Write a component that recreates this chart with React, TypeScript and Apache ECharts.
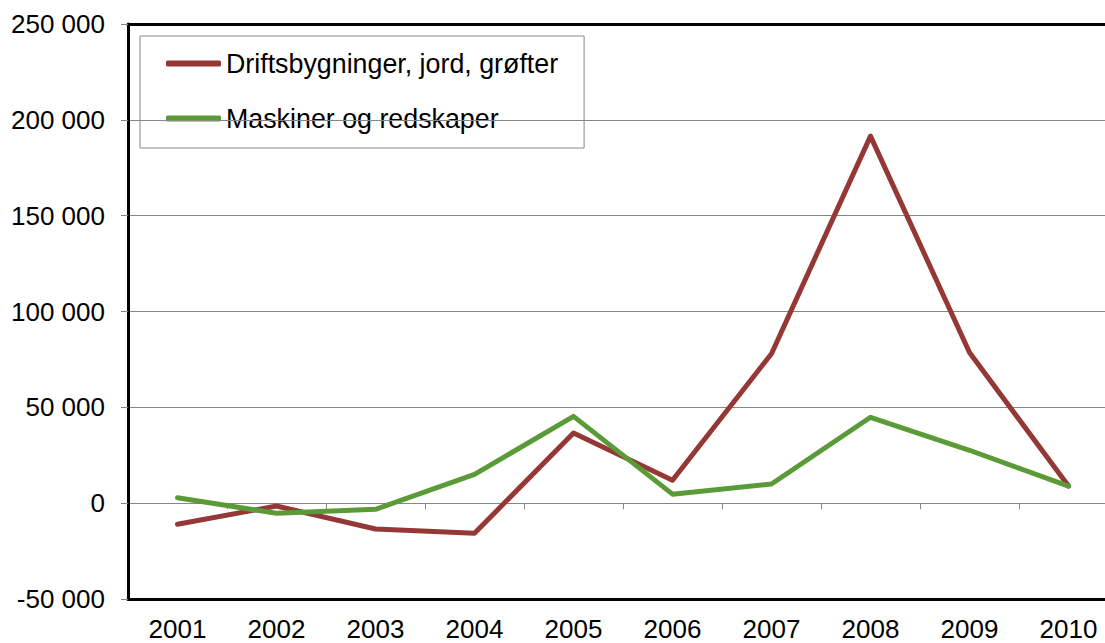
import React, { useEffect, useRef } from "react";
import * as echarts from "echarts";

const years = ["2001", "2002", "2003", "2004", "2005", "2006", "2007", "2008", "2009", "2010"];
const driftsbygninger = [-11000, -1500, -13500, -15700, 36600, 12000, 78000, 191500, 78600, 8900];
const maskiner = [2800, -5300, -3200, 15000, 45300, 4700, 10000, 44800, 27600, 8900];
const seriesNames = ["Driftsbygninger, jord, grøfter", "Maskiner og redskaper"];
const seriesColors = ["#953735", "#5B9B37"];

const FONT = "'Liberation Sans', Arial, sans-serif";

export default function App() {
  const ref = useRef<HTMLDivElement>(null);
  useEffect(() => {
    if (!ref.current) return;
    const chart = echarts.init(ref.current, undefined, { renderer: "svg" });
    chart.setOption({
      animation: false,
      backgroundColor: "#ffffff",
      grid: {
        left: 128,
        top: 24,
        width: 990,
        height: 575,
        containLabel: false,
      },
      legend: {
        orient: "vertical",
        left: 140,
        top: 36,
        backgroundColor: "#ffffff",
        borderColor: "#868686",
        borderWidth: 1,
        padding: [14, 26, 16, 26],
        itemWidth: 55,
        itemHeight: 6,
        itemGap: 28,
        icon: "roundRect",
        textStyle: { fontSize: 26.8, color: "#000", fontFamily: FONT },
        data: seriesNames,
      },
      xAxis: [
        {
          type: "category",
          data: years,
          position: "bottom",
          boundaryGap: true,
          axisLine: { onZero: false, lineStyle: { color: "#000", width: 3 } },
          axisTick: { show: false },
          axisLabel: { fontSize: 26, color: "#000", fontFamily: FONT, margin: 17, interval: 0 },
          splitLine: { show: false },
          z: 5,
        },
        {
          type: "category",
          data: years,
          position: "bottom",
          boundaryGap: true,
          axisLine: { onZero: true, lineStyle: { color: "#000", width: 1 } },
          axisTick: { show: true, length: 6, lineStyle: { color: "#868686", width: 1 } },
          axisLabel: { show: false },
          splitLine: { show: false },
          z: 4,
        },
        {
          type: "category",
          data: years,
          position: "top",
          boundaryGap: true,
          axisLine: { onZero: false, lineStyle: { color: "#000", width: 3 } },
          axisTick: { show: false },
          axisLabel: { show: false },
          splitLine: { show: false },
          z: 5,
        },
      ],
      yAxis: {
        type: "value",
        min: -50000,
        max: 250000,
        interval: 50000,
        axisLine: { show: true, onZero: false, lineStyle: { color: "#000", width: 3 } },
        axisTick: { show: true, length: 7, lineStyle: { color: "#868686", width: 1 } },
        axisLabel: {
          fontSize: 26,
          color: "#000",
          fontFamily: FONT,
          margin: 23,
          formatter: (v: number) => {
            const s = Math.abs(v).toString().replace(/\B(?=(\d{3})+(?!\d))/g, " ");
            return (v < 0 ? "-" : "") + s;
          },
        },
        splitLine: {
          show: true,
          showMinLine: false,
          showMaxLine: false,
          lineStyle: { color: "#868686", width: 1 },
        },
        z: 5,
      },
      series: [
        {
          name: seriesNames[0],
          type: "line",
          data: driftsbygninger,
          symbol: "none",
          color: seriesColors[0],
          lineStyle: { width: 5, color: seriesColors[0], cap: "round", join: "round" },
          z: 10,
        },
        {
          name: seriesNames[1],
          type: "line",
          data: maskiner,
          symbol: "none",
          color: seriesColors[1],
          lineStyle: { width: 5, color: seriesColors[1], cap: "round", join: "round" },
          z: 11,
        },
      ],
    });
    return () => chart.dispose();
  }, []);
  return (
    <div
      style={{
        position: "absolute",
        left: 0,
        top: 0,
        width: 1105,
        height: 643,
        overflow: "hidden",
      }}
    >
      <div ref={ref} style={{ width: 1130, height: 643 }} />
    </div>
  );
}
